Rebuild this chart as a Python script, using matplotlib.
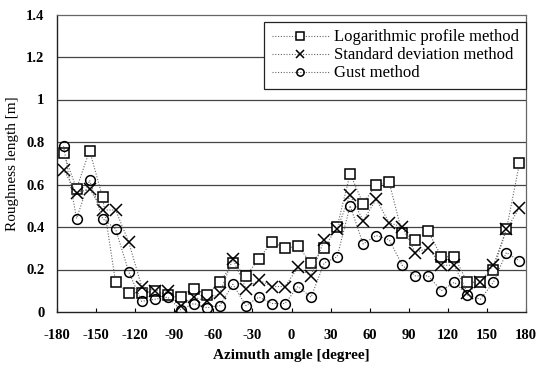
import matplotlib
matplotlib.use("Agg")
import matplotlib.pyplot as plt
import numpy as np

azimuth = list(range(-175, 180, 10))

log_profile = [0.75, 0.58, 0.76, 0.54, 0.14, 0.09, 0.09, 0.10, 0.08,
               0.07, 0.11, 0.08, 0.14, 0.23, 0.17, 0.25, 0.33, 0.30,
               0.31, 0.23, 0.30, 0.40, 0.65, 0.51, 0.60, 0.61, 0.37,
               0.34, 0.38, 0.26, 0.26, 0.14, 0.14, 0.20, 0.39, 0.70]

std_dev = [0.67, 0.56, 0.58, 0.48, 0.48, 0.33, 0.12, 0.10, 0.10,
           0.03, 0.07, 0.05, 0.09, 0.25, 0.11, 0.15, 0.12, 0.12,
           0.21, 0.17, 0.34, 0.39, 0.55, 0.43, 0.53, 0.42, 0.40,
           0.28, 0.30, 0.22, 0.22, 0.09, 0.14, 0.22, 0.39, 0.49]

gust = [0.78, 0.44, 0.62, 0.44, 0.39, 0.19, 0.05, 0.06, 0.07,
        0.01, 0.04, 0.02, 0.03, 0.13, 0.03, 0.07, 0.04, 0.04,
        0.12, 0.07, 0.23, 0.26, 0.50, 0.32, 0.36, 0.34, 0.22,
        0.17, 0.17, 0.10, 0.14, 0.08, 0.06, 0.14, 0.28, 0.24]

series_labels = ["Logarithmic profile method", "Standard deviation method", "Gust method"]

xticks = list(range(-180, 181, 30))
yticks = [0, 0.2, 0.4, 0.6, 0.8, 1.0, 1.2, 1.4]
ytick_labels = ["0", "0.2", "0.4", "0.6", "0.8", "1", "1.2", "1.4"]

plt.rcParams['font.family'] = ['Liberation Serif', 'DejaVu Serif']

fig = plt.figure(figsize=(5.38, 3.68), dpi=100)
ax = fig.add_axes([57/538, 1-312/368, (526-57)/538, (312-14.5)/368])

line_kw = dict(color='#666666', linestyle=(0, (1, 1.5)), linewidth=0.8)
ax.plot(azimuth, log_profile, marker='s', markersize=7, markerfacecolor='white',
        markeredgecolor='black', markeredgewidth=1.1, label=series_labels[0], zorder=3, **line_kw)
ax.plot(azimuth, std_dev, marker='x', markersize=8, markeredgecolor='black',
        markeredgewidth=1.1, label=series_labels[1], zorder=4, **line_kw)
ax.plot(azimuth, gust, marker='o', markersize=7, markerfacecolor='none',
        markeredgecolor='black', markeredgewidth=1.1, label=series_labels[2], zorder=5, **line_kw)

ax.set_xlim(-180, 180)
ax.set_ylim(0, 1.4)
ax.set_xticks(xticks)
ax.set_xticklabels([str(t) for t in xticks], fontsize=10.5, fontweight='bold')
ax.set_yticks(yticks)
ax.set_yticklabels(ytick_labels, fontsize=10.5, fontweight='bold')
ax.tick_params(axis='x', direction='in', length=3, width=0.8, pad=12)
ax.tick_params(axis='y', length=0, pad=9)

for y in yticks[1:-1]:
    ax.axhline(y, color='#444444', linewidth=0.9, zorder=1)

for side in ['left', 'bottom']:
    ax.spines[side].set_color('#222222')
    ax.spines[side].set_linewidth(1.0)
for side in ['top', 'right']:
    ax.spines[side].set_color('#666666')
    ax.spines[side].set_linewidth(0.9)

ax.set_xlabel("Azimuth amgle [degree]", fontsize=11, fontweight='bold', labelpad=5)
ax.set_ylabel("Roughness length [m]", fontsize=11, labelpad=5)

leg = ax.legend(loc='upper right', bbox_to_anchor=(1.0, 0.975), fontsize=12,
                frameon=True, fancybox=False, edgecolor='#222222', framealpha=1,
                handlelength=3.4, handletextpad=0.3, borderpad=0.45,
                labelspacing=0.12, borderaxespad=0.0, markerscale=0.75)
leg.get_frame().set_linewidth(0.9)

fig.savefig("out.png", dpi=100)
